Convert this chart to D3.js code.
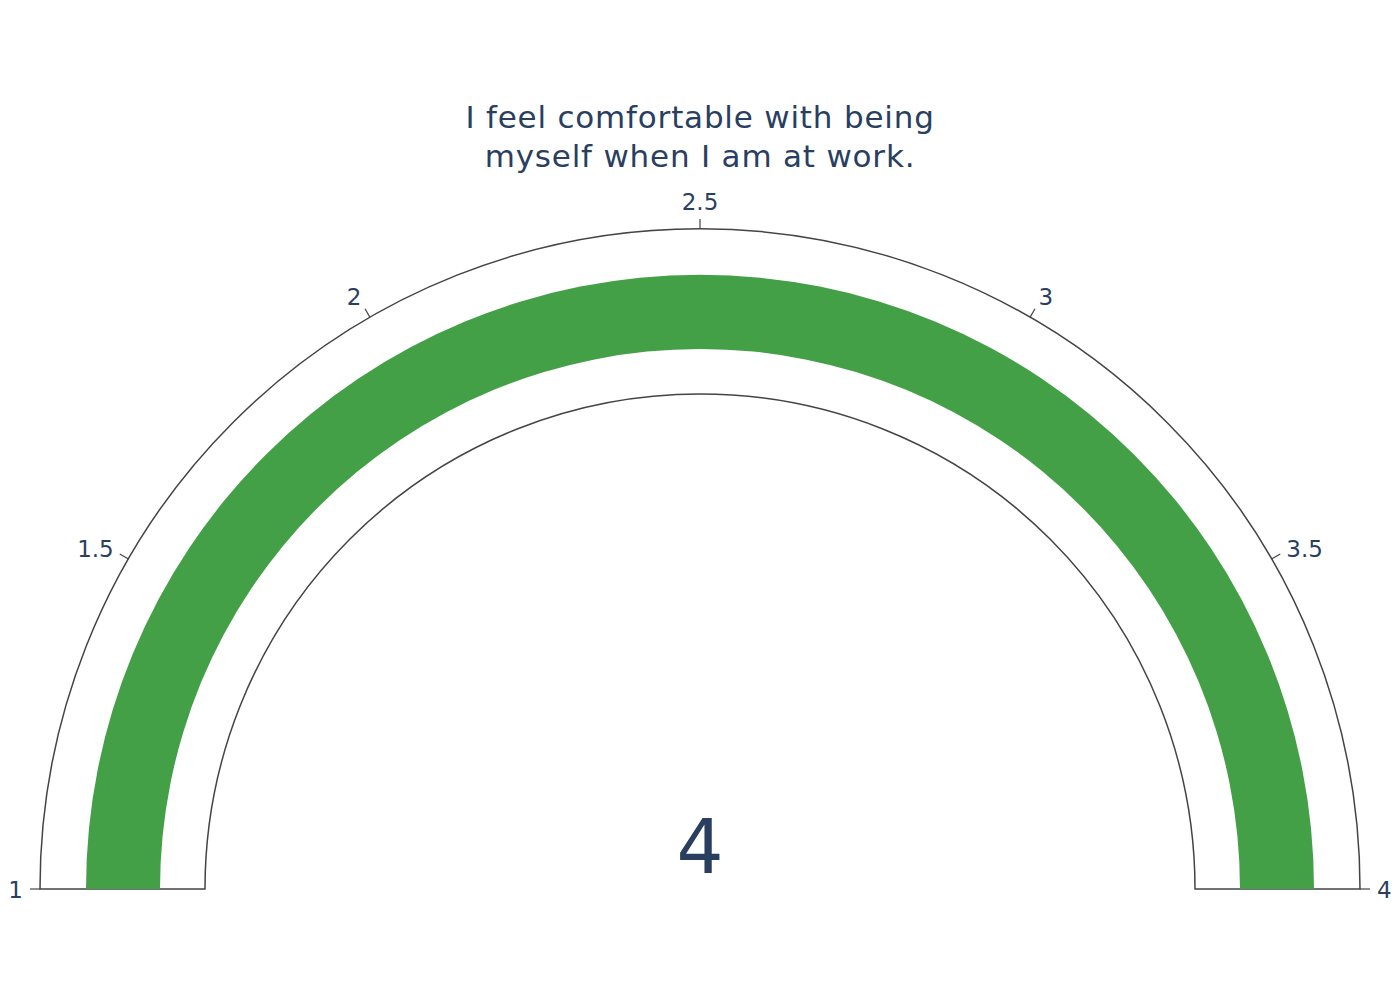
<!DOCTYPE html>
<html><head><meta charset="utf-8">
<script src="https://cdn.jsdelivr.net/npm/d3@7"></script>
<style>body{margin:0;background:#fff}svg{display:block}</style>
</head><body>
<svg id="c" width="1400" height="1000"></svg>
<script>
const titleLines = ["I feel comfortable with being", "myself when I am at work."];
const gaugeRange = [1, 4];
const tickValues = [1, 1.5, 2, 2.5, 3, 3.5, 4];
const tickLabels = ["1", "1.5", "2", "2.5", "3", "3.5", "4"];
const values = [4];

const font = "Verdana, 'DejaVu Sans', sans-serif";
const textColor = "#2a3f5f";
const svg = d3.select("#c");
const cx = 700, cy = 889;
const R = 660, r = 495, barOuter = 614, barInner = 540;
const ticklen = 10;
const tickFs = 23;

const ang = d3.scaleLinear().domain(gaugeRange).range([-Math.PI/2, Math.PI/2]);
const g = svg.append("g").attr("transform", `translate(${cx},${cy})`);

// background gauge
g.append("path")
  .attr("d", d3.arc().innerRadius(r).outerRadius(R).startAngle(ang(gaugeRange[0])).endAngle(ang(gaugeRange[1]))())
  .attr("fill", "#fff").attr("stroke", "#444").attr("stroke-width", 1.5);

// bar
g.selectAll("path.bar").data(values).enter().append("path").attr("class", "bar")
  .attr("d", d => d3.arc().innerRadius(barInner).outerRadius(barOuter).startAngle(ang(gaugeRange[0])).endAngle(ang(d))())
  .attr("fill", "#44a047");

// ticks
const pad = R + ticklen + 7;
tickValues.forEach((v, i) => {
  const a = ang(v); // 0 = up
  const dx = Math.sin(a), dy = -Math.cos(a);
  g.append("line")
    .attr("x1", dx * R).attr("y1", dy * R)
    .attr("x2", dx * (R + ticklen)).attr("y2", dy * (R + ticklen))
    .attr("stroke", "#444").attr("stroke-width", 1.2);
  const cos = dx, sin = -dy;
  const ff = sin > 0 ? 0.2 : 1;
  const x = cos * pad;
  const y = -sin * (pad + tickFs * ff) + Math.abs(cos) * tickFs * 0.35 + 2 * sin;
  g.append("text").text(tickLabels[i])
    .attr("font-family", font).attr("font-size", tickFs).attr("fill", textColor)
    .attr("text-anchor", Math.abs(cos) < 0.1 ? "middle" : (cos > 0 ? "start" : "end"))
    .attr("x", x).attr("y", y + 0.5);
});

// number
svg.selectAll("text.num").data(values).enter().append("text").attr("class", "num")
  .attr("x", cx).attr("y", 873).attr("text-anchor", "middle")
  .attr("font-family", font).attr("font-size", 74).attr("fill", textColor)
  .text(d => d3.format("")(d));

// title
svg.append("text").attr("text-anchor", "middle").attr("font-family", font)
  .attr("font-size", 31).attr("fill", textColor).attr("letter-spacing", 0.8)
  .selectAll("tspan").data(titleLines).enter().append("tspan")
  .attr("x", cx).attr("y", (d, i) => 128 + i * 39).text(d => d);
</script>
</body></html>
